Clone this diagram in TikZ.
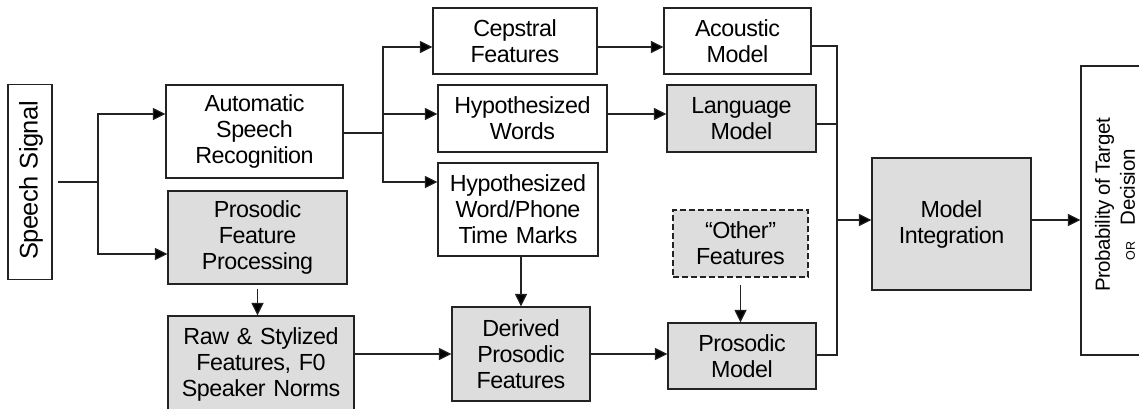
\documentclass[tikz,border=0pt]{standalone}
\usepackage{fontspec}
\setmainfont{Liberation Sans}[LetterSpace=-2]
\usetikzlibrary{arrows.meta}
\definecolor{boxgray}{RGB}{221,221,221}
\definecolor{edge}{RGB}{35,35,35}
\begin{document}
\begin{tikzpicture}[x=1pt,y=-1pt,
  box/.style={draw=edge, line width=1.1pt, inner sep=0pt, align=center, font=\fontsize{23.3}{26}\selectfont},
  gbox/.style={box, fill=boxgray},
  conn/.style={draw=edge, line width=1.1pt},
  arr/.style={conn, -{Triangle[length=12.5pt,width=12pt,fill=black]}}]
\useasboundingbox (0,0) rectangle (1139,408);

% nodes
\node[box, minimum width=44pt, minimum height=195pt] (speech) at (30,182) {};
\node[rotate=90, inner sep=0pt, font=\fontsize{25.5}{28}\selectfont] (speechtxt) at (31,180.5) {Speech Signal};

\node[box, text width=177pt, minimum height=93pt] (asr) at (254.5,131.5) {Automatic\\Speech\\Recognition};
\node[gbox, text width=179pt, minimum height=93pt] (pfp) at (257.5,237.5) {Prosodic\\Feature\\Processing};
\node[gbox, text width=186pt, minimum height=96pt] (raw) at (261,364) {Raw \& Stylized\\Features, F0\\Speaker Norms};

\node[box, text width=164pt, minimum height=66pt] (cep) at (515,41) {Cepstral\\Features};
\node[box, text width=169pt, minimum height=67pt] (hw) at (522.5,118.5) {Hypothesized\\Words};
\node[box, text width=160pt, minimum height=93pt] (hwp) at (518,209.5) {Hypothesized\\Word/Phone\\Time Marks};
\node[gbox, text width=138pt, minimum height=94pt] (der) at (521,354) {Derived\\Prosodic\\Features};

\node[box, text width=147pt, minimum height=66pt] (am) at (737.5,41) {Acoustic\\Model};
\node[gbox, text width=149pt, minimum height=67pt] (lm) at (741.5,118.5) {Language\\Model};
\node[gbox, dash pattern=on 6pt off 3pt, text width=135pt, minimum height=67pt] (other) at (740.5,243.5) {“Other”\\Features};
\node[gbox, text width=148pt, minimum height=66pt] (pm) at (742,356) {Prosodic\\Model};

\node[gbox, text width=159pt, minimum height=132pt] (mi) at (951.5,224) {Model\\Integration};

\node[box, minimum width=69pt, minimum height=289pt] (out) at (1115.5,210.5) {};
\node[rotate=90, inner sep=0pt, align=center, font=\fontsize{20.5}{25}\selectfont] (outtxt) at (1115,205)
  {Probability of Target\\{\fontsize{12.5}{12.5}\selectfont OR}\;\; Decision};

% connectors
\coordinate (sj) at (98,182);
\draw[conn] ([xshift=5pt]speech.east) -- (sj);
\draw[arr] (sj) |- ([yshift=17.5pt]asr.west);
\draw[arr] (sj) |- ([yshift=-16.5pt]pfp.west);

\coordinate (aj) at (383,133);
\draw[conn] (asr.east |- aj) -- (aj);
\draw[arr] (aj) |- ([yshift=-6pt]cep.west);
\draw[arr] (aj) |- ([yshift=4.5pt]hw.west);
\draw[arr] (aj) |- ([yshift=27.5pt]hwp.west);

\draw[arr] ([yshift=-6pt]cep.east) -- ([yshift=-6pt]am.west);
\draw[arr] ([yshift=4.5pt]hw.east) -- ([yshift=4.5pt]lm.west);
\draw[arr] (der.north |- hwp.south) -- (der.north);
\draw[arr] ([yshift=-4pt]pfp.south) -- (pfp.south |- raw.north);
\draw[arr] (raw.east |- der.west) -- (der.west);
\draw[arr] (der.east) -- (der.east -| pm.west);
\draw[arr] ([yshift=-7pt]other.south) -- (other.south |- pm.north);

\coordinate (bt) at (837,46);
\coordinate (bb) at (837,355);
\coordinate (bm) at (837,220);
\draw[conn] (am.east |- bt) -- (bt) -- (bb) -- (pm.east |- bb);
\draw[conn] ([yshift=-5.5pt]lm.east) -- ([yshift=-5.5pt]lm.east -| bt);
\draw[arr] (bm) -- (bm -| mi.west);
\draw[arr] (bm -| mi.east) -- (bm -| out.west);
\end{tikzpicture}
\end{document}
